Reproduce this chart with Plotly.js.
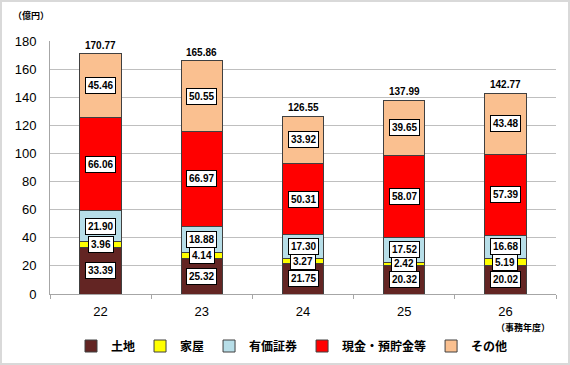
<!DOCTYPE html>
<html>
<head>
<meta charset="utf-8">
<script src="https://cdn.plot.ly/plotly-3.0.1.min.js"></script>
<style>
html,body{margin:0;padding:0;background:#fff;}
#chart{width:570px;height:365px;}
#frame{position:absolute;left:0;top:0;width:566px;height:361px;border:2px solid #d9d9d9;pointer-events:none;}
</style>
</head>
<body>
<div id="chart"></div>
<div id="frame"></div>
<script>
const categories = ['22', '23', '24', '25', '26'];
const seriesNames = ['土地', '家屋', '有価証券', '現金・預貯金等', 'その他'];
const land = [33.39, 25.32, 21.75, 20.32, 20.02];
const house = [3.96, 4.14, 3.27, 2.42, 5.19];
const securities = [21.90, 18.88, 17.30, 17.52, 16.68];
const cash = [66.06, 66.97, 50.31, 58.07, 57.39];
const other = [45.46, 50.55, 33.92, 39.65, 43.48];
const totals = [170.77, 165.86, 126.55, 137.99, 142.77];
const colors = ['#632523', '#FFFF00', '#B7DEE8', '#FF0000', '#FAC090'];

const series = [land, house, securities, cash, other];
const numFont = {family: 'Arial, Liberation Sans, sans-serif', size: 10, color: '#000', weight: 'bold'};
const cjk = 'Noto Sans CJK JP, sans-serif';

const traces = series.map((vals, i) => ({
  type: 'bar',
  name: seriesNames[i],
  x: categories,
  y: vals,
  marker: {color: colors[i], line: {color: '#404040', width: 1}},
  hoverinfo: 'skip'
}));

const annotations = [];
categories.forEach((c, j) => {
  let base = 0;
  series.forEach((vals) => {
    const v = vals[j];
    annotations.push({
      x: j, y: base + v / 2, xref: 'x', yref: 'y',
      text: v.toFixed(2), showarrow: false,
      font: numFont, bgcolor: '#fff', bordercolor: '#000', borderwidth: 1, borderpad: 2
    });
    base += v;
  });
  annotations.push({
    x: j, y: totals[j], xref: 'x', yref: 'y', yanchor: 'bottom', yshift: 1,
    text: totals[j].toFixed(2), showarrow: false, font: numFont
  });
});
// plot area: x 50..556 (506px), y 41..294 (253px)
const px = (x) => (x - 50) / 506;
const py = (y) => (294 - y) / 253;
annotations.push({
  x: px(31), y: py(16), xref: 'paper', yref: 'paper', xanchor: 'center', yanchor: 'middle',
  text: '（億円）', showarrow: false,
  font: {family: cjk, size: 9, color: '#000', weight: 'bold'}
});
annotations.push({
  x: px(523), y: py(327), xref: 'paper', yref: 'paper', xanchor: 'center', yanchor: 'middle',
  text: '（事務年度）', showarrow: false,
  font: {family: cjk, size: 9, color: '#000', weight: 'bold'}
});

const layout = {
  width: 570, height: 365,
  margin: {l: 50, r: 14, t: 41, b: 71, pad: 0},
  barmode: 'stack',
  bargap: 0.59,
  paper_bgcolor: '#fff', plot_bgcolor: '#fff',
  showlegend: true,
  legend: {
    orientation: 'h', xref: 'container', yref: 'container',
    x: 292 / 570, xanchor: 'center', y: 1 - 346 / 365, yanchor: 'middle',
    traceorder: 'normal',
    font: {family: cjk, size: 12, color: '#000', weight: 'bold'},
    itemwidth: 30
  },
  xaxis: {
    type: 'category', range: [-0.5, 4.5], automargin: false,
    tickfont: {family: 'Arial, Liberation Sans, sans-serif', size: 13, color: '#000'},
    showline: true, linecolor: '#a6a6a6', linewidth: 1,
    ticks: 'outside', tickson: 'boundaries', ticklen: 4, tickcolor: '#a6a6a6',
    ticklabelstandoff: 5,
    showgrid: false, fixedrange: true
  },
  yaxis: {
    range: [0, 180], dtick: 20, automargin: false,
    tickfont: {family: 'Arial, Liberation Sans, sans-serif', size: 13, color: '#000'},
    showline: true, linecolor: '#a6a6a6', linewidth: 1,
    gridcolor: '#bfbfbf', gridwidth: 1, zeroline: false,
    ticks: '', ticklabelstandoff: 10, fixedrange: true
  },
  annotations: annotations
};

Plotly.newPlot('chart', traces, layout, {displayModeBar: false, staticPlot: true});
</script>
</body>
</html>
